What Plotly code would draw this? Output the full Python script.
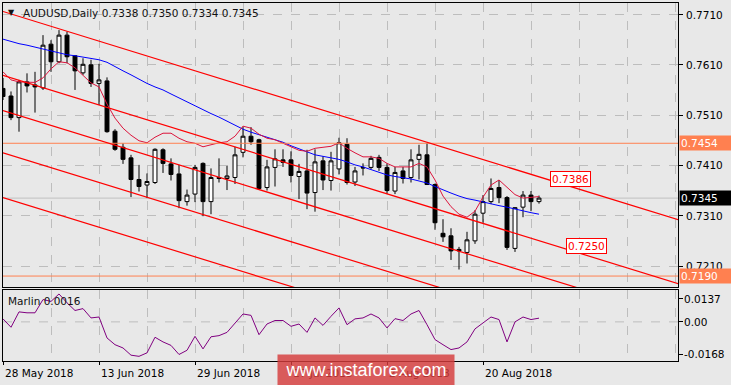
import plotly.graph_objects as go

# ---------------- data ----------------
date_labels = ["28 May 2018", "13 Jun 2018", "29 Jun 2018", "17 Jul 2018", "2 Aug 2018", "20 Aug 2018"]
date_label_bars = [0, 12, 24, 36, 48, 60]

open_ = [0.7563, 0.7548, 0.7505, 0.7576, 0.7570, 0.7564, 0.7651, 0.7616, 0.7669, 0.7628,
         0.7594, 0.7610, 0.7573, 0.7578, 0.7478, 0.7446, 0.7425, 0.7382, 0.7371, 0.7376,
         0.7441, 0.7413, 0.7393, 0.7338, 0.7353, 0.7414, 0.7338, 0.7386, 0.7384, 0.7386,
         0.7436, 0.7468, 0.7461, 0.7366, 0.7406, 0.7421, 0.7421, 0.7388, 0.7399, 0.7356,
         0.7419, 0.7380, 0.7403, 0.7452, 0.7377, 0.7406, 0.7406, 0.7426, 0.7406, 0.7359,
         0.7399, 0.7386, 0.7422, 0.7431, 0.7372, 0.7275, 0.7270, 0.7243, 0.7237, 0.7260,
         0.7315, 0.7338, 0.7366, 0.7346, 0.7245, 0.7327, 0.7351, 0.7338]
high = [0.7584, 0.7557, 0.7580, 0.7593, 0.7596, 0.7669, 0.7659, 0.7679, 0.7676, 0.7629,
        0.7623, 0.7620, 0.7612, 0.7585, 0.7482, 0.7454, 0.7431, 0.7411, 0.7394, 0.7444,
        0.7444, 0.7424, 0.7411, 0.7362, 0.7411, 0.7416, 0.7404, 0.7424, 0.7409, 0.7447,
        0.7487, 0.7486, 0.7463, 0.7421, 0.7442, 0.7442, 0.7438, 0.7413, 0.7441, 0.7442,
        0.7428, 0.7437, 0.7465, 0.7464, 0.7407, 0.7414, 0.7429, 0.7431, 0.7414, 0.7407,
        0.7407, 0.7442, 0.7451, 0.7454, 0.7374, 0.7303, 0.7285, 0.7248, 0.7278, 0.7321,
        0.7351, 0.7384, 0.7381, 0.7349, 0.7327, 0.7359, 0.7359, 0.7350]
low = [0.7540, 0.7500, 0.7477, 0.7555, 0.7515, 0.7560, 0.7596, 0.7613, 0.7613, 0.7560,
       0.7590, 0.7566, 0.7530, 0.7475, 0.7439, 0.7413, 0.7347, 0.7358, 0.7345, 0.7373,
       0.7395, 0.7380, 0.7325, 0.7330, 0.7337, 0.7309, 0.7313, 0.7376, 0.7361, 0.7373,
       0.7426, 0.7451, 0.7363, 0.7360, 0.7368, 0.7407, 0.7376, 0.7343, 0.7323, 0.7318,
       0.7361, 0.7360, 0.7392, 0.7372, 0.7369, 0.7390, 0.7402, 0.7399, 0.7353, 0.7353,
       0.7374, 0.7376, 0.7382, 0.7371, 0.7282, 0.7258, 0.7222, 0.7203, 0.7215, 0.7254,
       0.7296, 0.7333, 0.7335, 0.7242, 0.7238, 0.7307, 0.7319, 0.7334]
close = [0.7547, 0.7505, 0.7576, 0.7568, 0.7566, 0.7649, 0.7616, 0.7669, 0.7626, 0.7598,
         0.7611, 0.7573, 0.7580, 0.7477, 0.7442, 0.7422, 0.7382, 0.7368, 0.7378, 0.7442,
         0.7414, 0.7392, 0.7340, 0.7351, 0.7406, 0.7338, 0.7386, 0.7384, 0.7389, 0.7431,
         0.7468, 0.7457, 0.7364, 0.7407, 0.7423, 0.7416, 0.7390, 0.7398, 0.7355, 0.7417,
         0.7381, 0.7419, 0.7455, 0.7376, 0.7399, 0.7405, 0.7424, 0.7406, 0.7360, 0.7396,
         0.7384, 0.7421, 0.7432, 0.7372, 0.7296, 0.7268, 0.7240, 0.7240, 0.7262, 0.7313,
         0.7338, 0.7364, 0.7346, 0.7247, 0.7326, 0.7351, 0.7338, 0.7345]

ma_blue = [0.7661, 0.7656, 0.7652, 0.7649, 0.7645, 0.7641, 0.7637, 0.7633, 0.7630, 0.7628,
           0.7625, 0.7622, 0.7620, 0.7615, 0.7606, 0.7598, 0.7590, 0.7581, 0.7573, 0.7566,
           0.7560, 0.7552, 0.7544, 0.7536, 0.7528, 0.7520, 0.7513, 0.7506, 0.7498, 0.7490,
           0.7482, 0.7476, 0.7471, 0.7467, 0.7461, 0.7456, 0.7449, 0.7443, 0.7437, 0.7431,
           0.7428, 0.7425, 0.7422, 0.7417, 0.7411, 0.7407, 0.7402, 0.7397, 0.7391, 0.7388,
           0.7386, 0.7383, 0.7379, 0.7375, 0.7368, 0.7361, 0.7355, 0.7349, 0.7344, 0.7341,
           0.7337, 0.7333, 0.7330, 0.7327, 0.7323, 0.7320, 0.7316, 0.7313]

ma_crimson = [0.7596, 0.7580, 0.7576, 0.7576, 0.7575, 0.7584, 0.7602, 0.7616, 0.7614, 0.7604,
              0.7588, 0.7574, 0.7566, 0.7532, 0.7504, 0.7484, 0.7470, 0.7459, 0.7455, 0.7466,
              0.7474, 0.7474, 0.7464, 0.7457, 0.7454, 0.7447, 0.7451, 0.7455, 0.7457, 0.7468,
              0.7488, 0.7484, 0.7472, 0.7464, 0.7461, 0.7454, 0.7447, 0.7440, 0.7438, 0.7444,
              0.7446, 0.7448, 0.7455, 0.7444, 0.7435, 0.7427, 0.7427, 0.7424, 0.7414, 0.7407,
              0.7407, 0.7407, 0.7414, 0.7407, 0.7381, 0.7349, 0.7328, 0.7313, 0.7307, 0.7319,
              0.7347, 0.7371, 0.7381, 0.7366, 0.7352, 0.7345, 0.7347, 0.7348]

marlin = [0.0013, -0.0023, 0.0043, 0.0039, 0.0039, 0.0096, 0.0088, 0.0120, 0.0082, 0.0049,
          0.0057, 0.0017, 0.0021, -0.0069, -0.0098, -0.0112, -0.0143, -0.0148, -0.0133, -0.0066,
          -0.0086, -0.0101, -0.0140, -0.0122, -0.0062, -0.0116, -0.0064, -0.0059, -0.0045, -0.0004,
          0.0034, 0.0028, -0.0055, -0.0009, 0.0006, 0.0006, -0.0019, -0.0009, -0.0045, 0.0017,
          -0.0015, 0.0024, 0.0060, -0.0012, 0.0013, 0.0017, 0.0034, 0.0017, -0.0026, 0.0014,
          0.0006, 0.0034, 0.0049, -0.0012, -0.0076, -0.0098, -0.0119, -0.0112, -0.0086, -0.0030,
          -0.0004, 0.0021, 0.0010, -0.0086, 0.0000, 0.0021, 0.0010, 0.0016]

# channel lines: price at bar 0 and at bar 85
channel_start = [0.7716, 0.7589, 0.7519, 0.7435, 0.7346]
channel_end = [0.7299, 0.7172, 0.7102, 0.7018, 0.6929]
channel_bars = [0, 85]

price_ticks = [0.7210, 0.7310, 0.7410, 0.7510, 0.7610, 0.7710]
price_tick_text = ["0.7210", "0.7310", "0.7410", "0.7510", "0.7610", "0.7710"]
level_lines = [0.7454, 0.7190]
last_price = 0.7345
marlin_tick_pos = [0.0100, 0.0, -0.0138]
marlin_tick_text = ["0.0137", "0.00", "-0.0168"]
channel_labels = ["0.7386", "0.7250"]
channel_label_bars = [70.9, 72.9]
channel_label_prices = [0.7382, 0.7249]

bars = list(range(len(close)))

# ---------------- figure ----------------
W, H = 731, 385
FONT = "DejaVu Sans"
BG = "#e8e8e8"
GRID = "#bdbdbd"
CORAL = "#ff8050"
FS = 10.5


def px_x(p):
    return p / W


def px_y(p):
    return 1 - p / H


fig = go.Figure()

fig.add_trace(go.Candlestick(
    x=bars, open=open_, high=high, low=low, close=close,
    increasing=dict(line=dict(color="black", width=1), fillcolor="white"),
    decreasing=dict(line=dict(color="black", width=1), fillcolor="black"),
    whiskerwidth=0, xaxis="x", yaxis="y", showlegend=False, hoverinfo="skip"))

fig.add_trace(go.Scatter(x=bars, y=ma_blue, mode="lines",
                         line=dict(color="#0000ff", width=1), xaxis="x", yaxis="y",
                         showlegend=False, hoverinfo="skip"))
fig.add_trace(go.Scatter(x=bars, y=ma_crimson, mode="lines",
                         line=dict(color="#dc143c", width=1), xaxis="x", yaxis="y",
                         showlegend=False, hoverinfo="skip"))
fig.add_trace(go.Scatter(x=bars, y=marlin, mode="lines",
                         line=dict(color="#800080", width=1), xaxis="x2", yaxis="y2",
                         showlegend=False, hoverinfo="skip"))

xrange_ = [0, 84.375]
xdom = [px_x(3), px_x(678)]

axis_common = dict(showline=True, mirror=True, linecolor="black", linewidth=1, zeroline=False)

fig.update_layout(
    width=W, height=H,
    margin=dict(l=0, r=0, t=0, b=0, autoexpand=False),
    paper_bgcolor=BG, plot_bgcolor=BG,
    font=dict(family=FONT, size=FS, color="black"),
    xaxis=dict(domain=xdom, range=xrange_, anchor="y", showticklabels=False,
               rangeslider=dict(visible=False), ticks="",
               showgrid=True, gridcolor=GRID, griddash="dash", gridwidth=1,
               tick0=0, dtick=6, **axis_common),
    yaxis=dict(domain=[px_y(287), px_y(3)], range=[0.716825, 0.773287], side="right",
               anchor="x", tickvals=price_ticks, showticklabels=False,
               ticks="outside", ticklen=4, tickcolor="black",
               showgrid=True, gridcolor=GRID, griddash="dash", gridwidth=1,
               **axis_common),
    xaxis2=dict(domain=xdom, range=xrange_, anchor="y2", showticklabels=False,
                tickvals=date_label_bars, ticks="outside", ticklen=3, tickcolor="black",
                showgrid=False,
                minor=dict(tick0=0, dtick=6, showgrid=True, gridcolor=GRID, griddash="dash"),
                **axis_common),
    yaxis2=dict(domain=[px_y(361), px_y(290)], range=[-0.0168, 0.0137], side="right",
                anchor="x2", tickvals=marlin_tick_pos, showticklabels=False,
                ticks="outside", ticklen=4, tickcolor="black", showgrid=False,
                **axis_common),
)

shapes = []
# current price line
shapes.append(dict(type="line", xref="x domain", yref="y", x0=0, x1=1, y0=last_price, y1=last_price,
                   line=dict(color="#c0c0c0", width=1), layer="below"))
# marlin zero line
shapes.append(dict(type="line", xref="x2 domain", yref="y2", x0=0, x1=1, y0=0, y1=0,
                   line=dict(color=GRID, width=1, dash="dash"), layer="below"))
# horizontal levels
for lv in level_lines:
    shapes.append(dict(type="line", xref="x domain", yref="y", x0=0, x1=1, y0=lv, y1=lv,
                       line=dict(color=CORAL, width=1), layer="above"))
# channel lines
for s, e in zip(channel_start, channel_end):
    shapes.append(dict(type="line", xref="x", yref="y", x0=channel_bars[0], x1=channel_bars[1],
                       y0=s, y1=e, line=dict(color="#ff0000", width=1.2), layer="above"))
fig.update_layout(shapes=shapes)

ann = []
# title
ann.append(dict(xref="paper", yref="paper", x=px_x(11.5), y=px_y(12), text="▼", showarrow=False,
                font=dict(size=8, color="#111"), xanchor="center", yanchor="middle"))
ann.append(dict(xref="paper", yref="paper", x=px_x(21), y=px_y(13),
                text="AUDUSD,Daily 0.7338 0.7350 0.7334 0.7345", showarrow=False,
                font=dict(size=FS, color="#111"), xanchor="left", yanchor="middle"))
ann.append(dict(xref="paper", yref="paper", x=px_x(6), y=px_y(300.5),
                text="Marlin 0.0016", showarrow=False,
                font=dict(size=FS, color="#111"), xanchor="left", yanchor="middle"))
# price axis labels
for v, t in zip(price_ticks, price_tick_text):
    ann.append(dict(xref="paper", yref="y", x=px_x(684), y=v, text=t, showarrow=False,
                    xanchor="left", yanchor="middle", font=dict(size=FS, color="black")))
# marlin axis labels
for v, t in zip(marlin_tick_pos, marlin_tick_text):
    ann.append(dict(xref="paper", yref="y2", x=px_x(682), y=v, text=t, showarrow=False,
                    xanchor="left", yanchor="middle", font=dict(size=FS, color="black")))
# right-axis price boxes
for lv, bg in [(level_lines[0], CORAL), (level_lines[1], CORAL), (last_price, "black")]:
    ann.append(dict(xref="paper", yref="y", x=px_x(679), y=lv, text=f"{lv:.4f}", showarrow=False,
                    xanchor="left", yanchor="middle", align="left", bgcolor=bg,
                    font=dict(size=FS, color="white"), width=50, height=12, borderpad=1))
# channel value labels
for t, bx, by in zip(channel_labels, channel_label_bars, channel_label_prices):
    ann.append(dict(xref="x", yref="y", x=bx, y=by, text=t, showarrow=False,
                    xanchor="center", yanchor="middle", bgcolor="white", bordercolor="#ff0000",
                    borderwidth=1, borderpad=1, font=dict(size=FS, color="#ff0000")))
# date labels
for b, t in zip(date_label_bars, date_labels):
    ann.append(dict(xref="x2", yref="paper", x=b, y=px_y(373), text=t, showarrow=False,
                    xanchor="left", yanchor="middle", font=dict(size=FS, color="black")))
# watermark
ann.append(dict(xref="paper", yref="paper", x=px_x(366), y=px_y(370), text="www.instaforex.com",
                showarrow=False, xanchor="center", yanchor="middle", width=176, height=30,
                borderpad=0, bgcolor="rgba(214,60,60,0.82)",
                font=dict(family="Liberation Sans", size=18, color="white")))
fig.update_layout(annotations=ann)

fig.write_html("out.html",
               config={"displayModeBar": False, "staticPlot": True},
               post_script="document.body.style.margin='0px';document.body.style.padding='0px';"
                           "document.body.style.overflow='hidden';")
